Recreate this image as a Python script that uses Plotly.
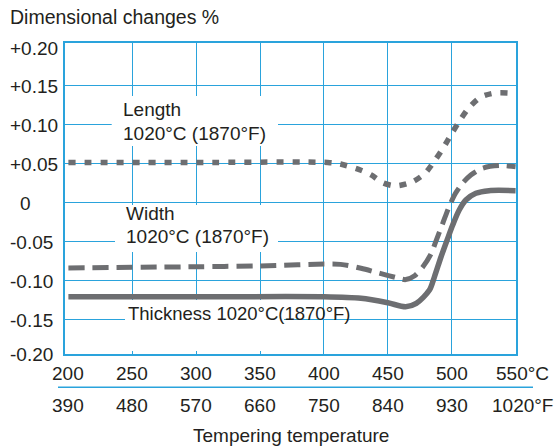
import plotly.graph_objects as go

# ---------------- data ----------------
length_x = [200, 300, 403, 413, 429, 437, 446, 456, 469, 479, 487, 493.5, 500, 506.5, 514, 523, 534, 545, 550]
length_y = [0.051, 0.051, 0.051, 0.049, 0.041, 0.035, 0.025, 0.021, 0.026, 0.037, 0.054, 0.070, 0.088, 0.105, 0.122, 0.135, 0.140, 0.140, 0.139]

width_x = [200, 300, 350, 413, 429, 444, 458, 464, 471, 477.5, 484, 488, 493, 498, 503, 508.5, 515, 524, 537, 550]
width_y = [-0.084, -0.0825, -0.0815, -0.0795, -0.0845, -0.091, -0.097, -0.099, -0.094, -0.0826, -0.0654, -0.0483,
           -0.0269, -0.0056, 0.0115, 0.0244, 0.035, 0.0436, 0.047, 0.0456]

thickness_x = [200, 300, 400, 429, 450, 464, 472.3, 482.6, 486.5, 491.7, 496.9, 500.8, 505.9, 511.1, 518.9, 529.2, 550]
thickness_y = [-0.121, -0.121, -0.121, -0.123, -0.1287, -0.1338, -0.1295, -0.1124, -0.0954, -0.0697, -0.0462,
               -0.0291, -0.0099, 0.0029, 0.0115, 0.0149, 0.0149]

y_ticks = [0.20, 0.15, 0.10, 0.05, 0.0, -0.05, -0.10, -0.15, -0.20]
y_labels = ["+0.20", "+0.15", "+0.10", "+0.05", "0", "-0.05", "-0.10", "-0.15", "-0.20"]

c_ticks = [200, 250, 300, 350, 400, 450, 500, 550]
c_labels = ["200", "250", "300", "350", "400", "450", "500", "550°C"]
f_labels = ["390", "480", "570", "660", "750", "840", "930", "1020°F"]

label_length = ["Length", "1020°C (1870°F)"]
label_width = ["Width", "1020°C (1870°F)"]
label_thickness = "Thickness 1020°C(1870°F)"

# ---------------- style / layout geometry ----------------
W, H = 555, 448
L, R, T, B = 65, 516, 43, 354
X0PX, XSCALE = 68.4, 1.2776      # px of 200°C, px per °C
Y0PX, YSCALE = 202.3, 780.9      # px of 0, px per unit


def X(px):
    return 200 + (px - X0PX) / XSCALE


def Y(py):
    return (Y0PX - py) / YSCALE


BLUE = "#2aa3dc"
GRAY = "#6d6e71"
TXT = "#231f20"
FONT = "Liberation Sans, Arial, sans-serif"

fig = go.Figure()

fig.add_trace(go.Scatter(x=thickness_x, y=thickness_y, mode="lines", hoverinfo="skip",
                         line=dict(color=GRAY, width=5.5, shape="spline", smoothing=0.8)))
fig.add_trace(go.Scatter(x=width_x, y=width_y, mode="lines", hoverinfo="skip",
                         line=dict(color=GRAY, width=5, dash="16px,8px", shape="spline", smoothing=0.8)))
fig.add_trace(go.Scatter(x=length_x, y=length_y, mode="lines", hoverinfo="skip",
                         line=dict(color=GRAY, width=5.5, dash="7px,9px", shape="spline", smoothing=0.8)))

ann = []
# y labels (left aligned); the frame edges use paper coordinates
for v, t in zip(y_ticks, y_labels):
    xs = (20 if t == "0" else 10) - L - 2
    f = dict(size=19, color=TXT, family=FONT)
    if v == 0.20:
        ann.append(dict(x=0, xref="paper", y=1, yref="paper", text=t, showarrow=False, xanchor="left",
                        yanchor="middle", xshift=xs, yshift=T - 48.8, font=f))
    elif v == -0.20:
        ann.append(dict(x=0, xref="paper", y=0, yref="paper", text=t, showarrow=False, xanchor="left",
                        yanchor="middle", xshift=xs, yshift=0, font=f))
    else:
        ann.append(dict(x=0, xref="paper", y=v, yref="y", text=t, showarrow=False, xanchor="left",
                        yanchor="middle", xshift=xs, yshift=-1.5, font=f))
# x labels, two rows
for v, tc, tf in zip(c_ticks, c_labels, f_labels):
    if v == 550:
        ann.append(dict(x=v, xref="x", y=0, yref="paper", text=tc, showarrow=False, xanchor="left",
                        yanchor="middle", xshift=496 - (X0PX + 350 * XSCALE) - 2, yshift=-19.4,
                        font=dict(size=19, color=TXT, family=FONT)))
        ann.append(dict(x=v, xref="x", y=0, yref="paper", text=tf, showarrow=False, xanchor="left",
                        yanchor="middle", xshift=491.7 - (X0PX + 350 * XSCALE) - 2, yshift=-51,
                        font=dict(size=19, color=TXT, family=FONT)))
    else:
        ann.append(dict(x=v, xref="x", y=0, yref="paper", text=tc, showarrow=False, xanchor="center",
                        yanchor="middle", yshift=-19.4, font=dict(size=19, color=TXT, family=FONT)))
        ann.append(dict(x=v, xref="x", y=0, yref="paper", text=tf, showarrow=False, xanchor="center",
                        yanchor="middle", yshift=-51, font=dict(size=19, color=TXT, family=FONT)))

ann.append(dict(x=(291 - L) / (R - L), xref="paper", y=0, yref="paper", text="Tempering temperature",
                showarrow=False, xanchor="center", yanchor="middle", yshift=-81,
                font=dict(size=19, color=TXT, family=FONT)))
ann.append(dict(x=0, xref="paper", y=1, yref="paper", text="Dimensional changes %", showarrow=False,
                xanchor="left", yanchor="middle", xshift=10 - L - 2, yshift=T - 16.7,
                font=dict(size=19.5, color=TXT, family=FONT)))

# curve labels
def lab(text, px, py, size=19):
    return dict(x=X(px), xref="x", y=Y(py), yref="y", text=text, showarrow=False,
                xanchor="left", yanchor="middle", xshift=-2, font=dict(size=size, color=TXT, family=FONT))


ann.append(lab(label_length[0], 123.3, 109.3))
ann.append(lab(label_length[1], 123.3, 133.3))
ann.append(lab(label_width[0], 125.5, 213.3))
ann.append(lab(label_width[1], 125.5, 236.7))
ann.append(lab(label_thickness, 128.3, 313.3, size=18.5))

# white masks behind labels (cover gridlines only)
shapes = []
for (x0, x1, y0, y1) in [(111.7, 278, 96, 146), (115, 278, 205, 252), (125, 284, 300, 352.3)]:
    shapes.append(dict(type="rect", xref="x", yref="y", x0=X(x0), x1=X(x1), y0=Y(y1), y1=Y(y0),
                       fillcolor="white", line=dict(width=0), layer="between"))
# separator between °C and °F rows
shapes.append(dict(type="line", xref="paper", yref="paper",
                   x0=(58 - L) / (R - L), x1=(533 - L) / (R - L),
                   y0=(B - 387.3) / (B - T), y1=(B - 387.3) / (B - T),
                   line=dict(color=BLUE, width=1.5)))

fig.update_layout(
    width=W, height=H,
    margin=dict(l=L, r=W - R, t=T, b=H - B, pad=0),
    paper_bgcolor="white", plot_bgcolor="white",
    showlegend=False,
    annotations=ann, shapes=shapes,
    xaxis=dict(range=[X(L), X(R)], tickvals=c_ticks[1:-1], showticklabels=False,
               showgrid=True, gridcolor=BLUE, gridwidth=1.2, zeroline=False,
               showline=True, linecolor=BLUE, linewidth=1.5, mirror=True,
               ticks="inside", ticklen=3.5, tickcolor=BLUE, tickwidth=1.2, fixedrange=True),
    yaxis=dict(range=[Y(B), Y(T)], tickvals=y_ticks[1:-1], showticklabels=False,
               showgrid=True, gridcolor=BLUE, gridwidth=1.2, zeroline=False,
               showline=True, linecolor=BLUE, linewidth=1.5, mirror=True, ticks="", fixedrange=True),
)

fig.write_html("out.html", config={"displayModeBar": False},
               post_script="document.body.style.margin='0';document.body.style.padding='0';")
